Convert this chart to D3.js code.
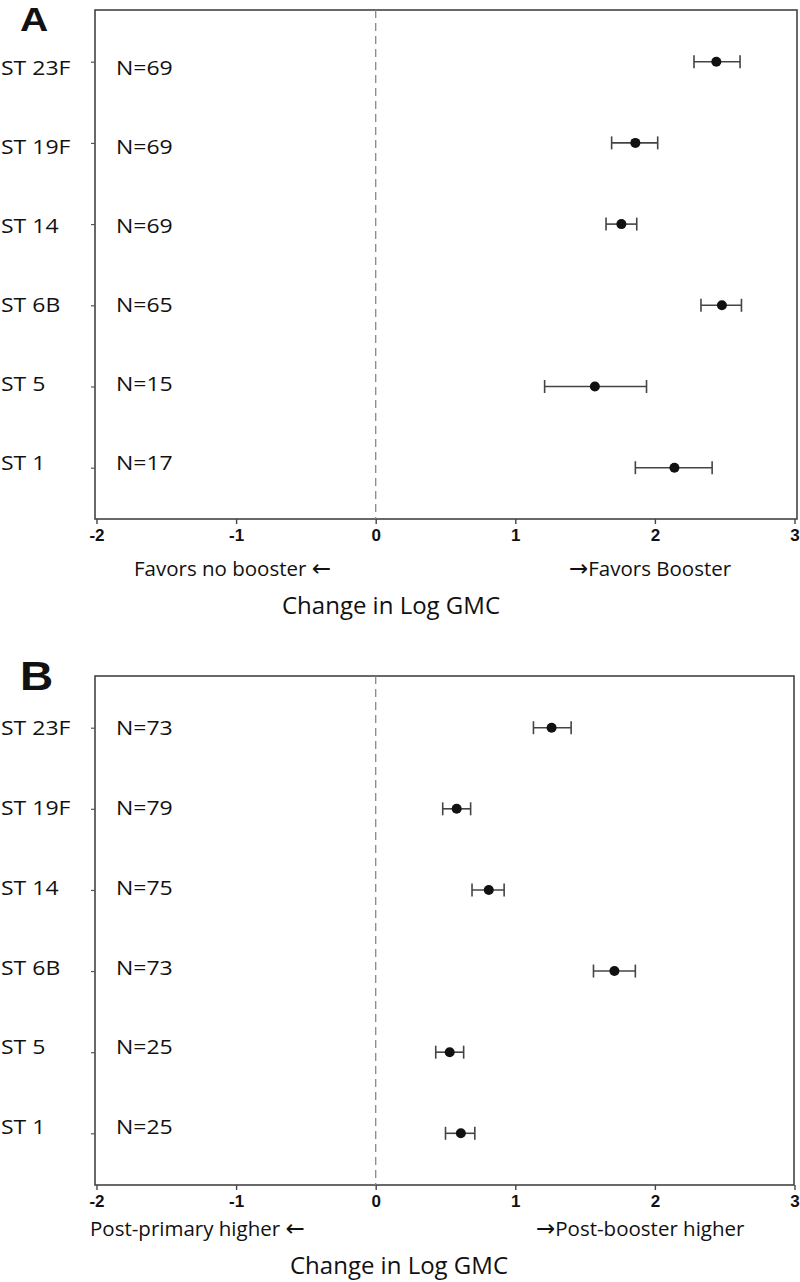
<!DOCTYPE html>
<html>
<head>
<meta charset="utf-8">
<script src="https://cdn.jsdelivr.net/npm/d3@7"></script>
<style>
  html, body { margin: 0; padding: 0; background: #fff; }
  svg { display: block; }
  .lbl { font-family: "Open Sans", "Noto Sans", sans-serif; fill: #111; }
  .arr { font-family: "DejaVu Sans", sans-serif; }
</style>
</head>
<body>
<svg id="chart" width="800" height="1282"></svg>
<script>
// ---- data ----
const categories = ["ST 23F", "ST 19F", "ST 14", "ST 6B", "ST 5", "ST 1"];
const xTicks = [-2, -1, 0, 1, 2, 3];

const nA    = [69, 69, 69, 65, 15, 17];
const estA  = [2.44, 1.86, 1.76, 2.48, 1.57, 2.14];
const lowA  = [2.28, 1.69, 1.65, 2.33, 1.21, 1.86];
const highA = [2.61, 2.02, 1.87, 2.62, 1.94, 2.41];

const nB    = [73, 79, 75, 73, 25, 25];
const estB  = [1.26, 0.58, 0.81, 1.71, 0.53, 0.61];
const lowB  = [1.13, 0.48, 0.69, 1.56, 0.43, 0.50];
const highB = [1.40, 0.68, 0.92, 1.86, 0.63, 0.71];

const panels = [
  { letter: "A", letterSize: 34, letterY: 31, top: 10, bottom: 519, right: 797,
    rowRange: [61.7, 467.7], textRange: [68, 463],
    n: nA, est: estA, low: lowA, high: highA,
    leftNote: ["Favors no booster ", "\u2190", ""], rightNote: ["", "\u2192", "Favors Booster"],
    leftX: 134, rightX: 569, noteY: 576, titleX: 391, titleY: 614 },
  { letter: "B", letterSize: 40, letterY: 690, top: 676, bottom: 1185, right: 794,
    rowRange: [727.7, 1133.3], textRange: [728, 1127],
    n: nB, est: estB, low: lowB, high: highB,
    leftNote: ["Post-primary higher ", "\u2190", ""], rightNote: ["", "\u2192", "Post-booster higher"],
    leftX: 90, rightX: 536, noteY: 1236, titleX: 399, titleY: 1274 }
];

const svg = d3.select("#chart");
const left = 95;
const x = d3.scaleLinear().domain([-2, 3]).range([96.5, 794.5]);

function note(g, parts, px, py) {
  const t = g.append("text").attr("class", "lbl")
    .attr("x", px).attr("y", py).style("font-size", "20.5px");
  t.append("tspan").text(parts[0]);
  t.append("tspan").attr("class", "arr").style("font-size", "23px").text(parts[1]);
  t.append("tspan").text(parts[2]);
}

panels.forEach(p => {
  const g = svg.append("g");
  const rows = categories.map((c, i) => ({ cat: c, n: p.n[i], est: p.est[i], low: p.low[i], high: p.high[i] }));

  const y = d3.scalePoint().domain(categories).range(p.rowRange);
  const yt = d3.scalePoint().domain(categories).range(p.textRange);

  // panel letter
  g.append("text")
    .attr("x", 0).attr("y", 0)
    .attr("transform", `translate(20,${p.letterY}) scale(1.15,1)`)
    .style("font-family", "'Liberation Sans', Arial, sans-serif")
    .style("font-weight", "bold")
    .style("font-size", p.letterSize + "px")
    .style("fill", "#111")
    .text(p.letter);

  // frame
  g.append("rect")
    .attr("x", left).attr("y", p.top)
    .attr("width", p.right - left).attr("height", p.bottom - p.top)
    .attr("fill", "none").attr("stroke", "#444").attr("stroke-width", 1.6);

  // zero reference line
  g.append("line")
    .attr("x1", x(0)).attr("x2", x(0))
    .attr("y1", p.top).attr("y2", p.bottom)
    .attr("stroke", "#888").attr("stroke-width", 1.3)
    .attr("stroke-dasharray", "8,5");

  // x axis
  const xa = g.append("g")
    .attr("transform", `translate(0,${p.bottom})`)
    .call(d3.axisBottom(x).tickValues(xTicks).tickSize(5).tickSizeOuter(0).tickPadding(5));
  xa.attr("font-size", 17).attr("font-family", "'Liberation Sans', Arial, sans-serif").attr("font-weight", "bold");
  xa.select(".domain").remove();
  xa.selectAll(".tick line").attr("stroke", "#444").attr("stroke-width", 1.4);
  xa.selectAll(".tick text")
    .text(d => d < 0 ? "-" + Math.abs(d) : d)
    .attr("fill", "#111");

  // y axis (ticks only)
  const ya = g.append("g")
    .attr("transform", `translate(${left},0)`)
    .call(d3.axisLeft(y).tickSize(4).tickFormat(""));
  ya.select(".domain").remove();
  ya.selectAll(".tick line").attr("stroke", "#555").attr("stroke-width", 1.2);

  // category labels
  g.selectAll(".cat").data(rows).enter().append("text")
    .attr("class", "lbl cat")
    .attr("transform", d => `translate(1,${yt(d.cat)}) scale(1.15,1)`)
    .attr("dy", "0.36em")
    .style("font-size", "20px")
    .text(d => d.cat);

  // N labels
  g.selectAll(".nlab").data(rows).enter().append("text")
    .attr("class", "lbl nlab")
    .attr("transform", d => `translate(116,${yt(d.cat)}) scale(1.15,1)`)
    .attr("dy", "0.36em")
    .style("font-size", "20px")
    .text(d => "N=" + d.n);

  // error bars
  const eb = g.selectAll(".eb").data(rows).enter().append("g").attr("class", "eb");
  eb.append("line")
    .attr("x1", d => x(d.low)).attr("x2", d => x(d.high))
    .attr("y1", d => y(d.cat)).attr("y2", d => y(d.cat))
    .attr("stroke", "#444").attr("stroke-width", 1.6);
  eb.append("line")
    .attr("x1", d => x(d.low)).attr("x2", d => x(d.low))
    .attr("y1", d => y(d.cat) - 6.5).attr("y2", d => y(d.cat) + 6.5)
    .attr("stroke", "#444").attr("stroke-width", 1.6);
  eb.append("line")
    .attr("x1", d => x(d.high)).attr("x2", d => x(d.high))
    .attr("y1", d => y(d.cat) - 6.5).attr("y2", d => y(d.cat) + 6.5)
    .attr("stroke", "#444").attr("stroke-width", 1.6);
  eb.append("circle")
    .attr("cx", d => x(d.est)).attr("cy", d => y(d.cat))
    .attr("r", 5).attr("fill", "#111");

  // direction notes
  note(g, p.leftNote, p.leftX, p.noteY);
  note(g, p.rightNote, p.rightX, p.noteY);

  // axis title
  g.append("text").attr("class", "lbl")
    .attr("x", p.titleX).attr("y", p.titleY)
    .attr("text-anchor", "middle")
    .style("font-size", "24px").text("Change in Log GMC");
});
</script>
</body>
</html>
